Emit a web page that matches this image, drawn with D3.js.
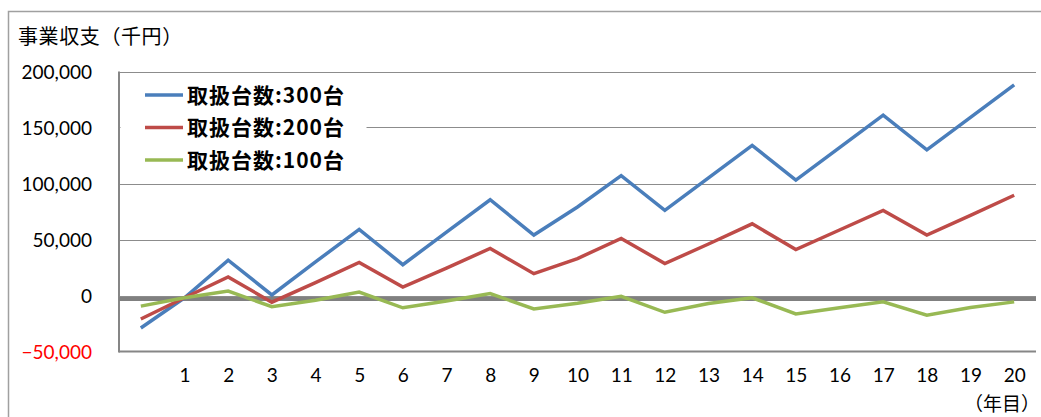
<!DOCTYPE html>
<meta charset="utf-8">
<style>
body { margin: 0; background: #fff; }
.line { fill: none; stroke-width: 3.5px; stroke-linejoin: miter; }
.grid line { stroke: #8c8c8c; stroke-width: 1.2px; }
.num { font-family: Lato, "Noto Sans CJK JP", sans-serif; font-size: 19px; fill: #000; }
.jp { font-family: "Noto Sans CJK JP", sans-serif; fill: #000; }
</style>
<body>
<script src="https://d3js.org/d3.v7.min.js"></script>
<script>

// data (thousand yen)
var years = ["", "1", "2", "3", "4", "5", "6", "7", "8", "9", "10",
             "11", "12", "13", "14", "15", "16", "17", "18", "19", "20"];
var units300 = [-29000, -2000, 31500, 500, 30000, 59000, 27500, 56500, 85500, 54000, 79000,
                107000, 76000, 105000, 134000, 103000, 132000, 161000, 130000, 159000, 188000];
var units200 = [-21000, -2000, 16500, -6000, 11500, 29500, 7500, 24500, 42000, 19500, 33000,
                51000, 28500, 46000, 64000, 41000, 58500, 76000, 54000, 71500, 89500];
var units100 = [-9500, -2000, 4000, -10000, -4200, 3000, -11000, -5000, 1800, -12000, -7000,
                -700, -15000, -7100, -2000, -16500, -11000, -5700, -17500, -10700, -5700];
var seriesNames = ["取扱台数:300台", "取扱台数:200台", "取扱台数:100台"];
var seriesColors = ["#4a7ebb", "#be4b48", "#98b954"];
var yTicks = [-50000, 0, 50000, 100000, 150000, 200000];
var refLine = [-3200];

var series = [units300, units200, units100];

var W = 1041, H = 417;
var plot = {left: 119, right: 1036, top: 71.5, bottom: 351.5};

var svg = d3.select("body").append("svg")
    .attr("width", W)
    .attr("height", H);

// outer frame
svg.append("rect")
    .attr("x", 8.5).attr("y", 11.5)
    .attr("width", W + 20).attr("height", H + 20)
    .attr("fill", "none")
    .attr("stroke", "#a0a0a0")
    .attr("stroke-width", 1.5);

// scales
var x = d3.scalePoint()
    .domain(d3.range(years.length))
    .range([plot.left, plot.right])
    .padding(0.5);
var y = d3.scaleLinear()
    .domain([d3.min(yTicks), d3.max(yTicks)])
    .range([plot.bottom, plot.top]);

// gridlines
svg.append("g").attr("class", "grid")
  .selectAll("line")
    .data(yTicks.slice(1))
  .enter().append("line")
    .attr("x1", plot.left).attr("x2", plot.right)
    .attr("y1", function(d) { return Math.round(y(d)) + 0.5; })
    .attr("y2", function(d) { return Math.round(y(d)) + 0.5; });

// axis frame lines (left + bottom)
svg.append("line")
    .attr("x1", plot.left).attr("x2", plot.left)
    .attr("y1", plot.top).attr("y2", plot.bottom + 1)
    .attr("stroke", "#868686").attr("stroke-width", 2);
svg.append("line")
    .attr("x1", plot.left).attr("x2", plot.right)
    .attr("y1", plot.bottom).attr("y2", plot.bottom)
    .attr("stroke", "#868686").attr("stroke-width", 2);

// Y axis labels
var yAxis = svg.append("g")
    .attr("transform", "translate(" + plot.left + ",0)")
    .call(d3.axisLeft(y).tickValues(yTicks).tickFormat(d3.format(",")).tickSize(0).tickPadding(27));
yAxis.select(".domain").remove();
yAxis.selectAll("text")
    .attr("class", "num")
    .attr("dy", "0.36em")
    .style("fill", function(d) { return d < 0 ? "#ff0000" : "#000"; });

// X axis labels
var xAxis = svg.append("g")
    .attr("transform", "translate(0," + plot.bottom + ")")
    .call(d3.axisBottom(x).tickFormat(function(i) { return years[i]; }).tickSize(0).tickPadding(17));
xAxis.select(".domain").remove();
xAxis.selectAll("text").attr("class", "num").attr("dy", "0.71em");

// thick gray reference line near zero
svg.selectAll(".ref")
    .data(refLine)
  .enter().append("line")
    .attr("class", "ref")
    .attr("x1", plot.left).attr("x2", plot.right)
    .attr("y1", function(d) { return y(d); })
    .attr("y2", function(d) { return y(d); })
    .attr("stroke", "#808080")
    .attr("stroke-width", 4);

// series lines
var valueline = d3.line()
    .x(function(d, i) { return x(i); })
    .y(function(d) { return y(d); });

svg.selectAll(".line")
    .data(series)
  .enter().append("path")
    .attr("class", "line")
    .attr("stroke", function(d, i) { return seriesColors[i]; })
    .attr("d", valueline);

// legend
svg.append("rect")
    .attr("x", plot.left + 1.5).attr("y", 73)
    .attr("width", 246).attr("height", 109)
    .attr("fill", "#fff");

var legend = svg.selectAll(".legend")
    .data(seriesNames)
  .enter().append("g")
    .attr("class", "legend")
    .attr("transform", function(d, i) { return "translate(0," + [95, 127.5, 160][i] + ")"; });
legend.append("line")
    .attr("x1", 145).attr("x2", 183)
    .attr("stroke", function(d, i) { return seriesColors[i]; })
    .attr("stroke-width", 3.5);
legend.append("text")
    .attr("class", "jp")
    .attr("x", 187)
    .attr("dy", "0.36em")
    .style("font-size", "21px")
    .style("font-weight", "bold")
    .style("letter-spacing", "1px")
    .text(function(d) { return d; });

// titles
svg.append("text")
    .attr("class", "jp")
    .attr("x", 18).attr("y", 44)
    .style("font-size", "20px")
    .style("letter-spacing", "0.6px")
    .text("事業収支（千円）");
svg.append("text")
    .attr("class", "jp")
    .attr("x", 1040).attr("y", 411)
    .attr("text-anchor", "end")
    .style("font-size", "19px")
    .text("（年目）");

</script>
</body>
